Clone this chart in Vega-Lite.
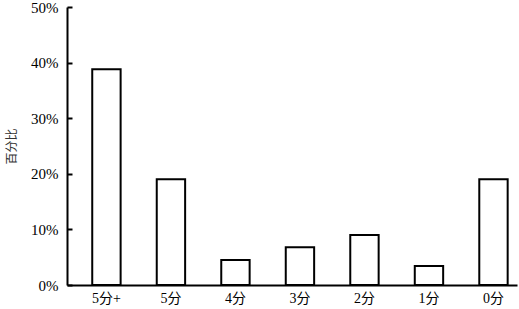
{
  "$schema": "https://vega.github.io/schema/vega-lite/v6.json",
  "width": 450,
  "height": 278,
  "autosize": "none",
  "padding": {"left": 67, "top": 7, "right": 2, "bottom": 24},
  "background": "white",
  "config": {"view": {"stroke": null}},
  "data": {"values": [
    {"cat": "5分+", "pct": 0.388},
    {"cat": "5分", "pct": 0.19},
    {"cat": "4分", "pct": 0.045},
    {"cat": "3分", "pct": 0.068},
    {"cat": "2分", "pct": 0.09},
    {"cat": "1分", "pct": 0.034},
    {"cat": "0分", "pct": 0.19}
  ]},
  "mark": {"type": "bar", "fill": "white", "stroke": "black", "strokeWidth": 2},
  "encoding": {
    "x": {
      "field": "cat", "type": "nominal", "sort": null,
      "scale": {"paddingInner": 0.56, "paddingOuter": 0.268, "align": 0.73},
      "axis": {
        "title": null, "labelAngle": 0, "ticks": false,
        "domainColor": "black", "domainWidth": 2,
        "labelFont": "Liberation Serif, Noto Sans CJK SC", "labelFontSize": 14,
        "labelColor": "black", "labelPadding": 6
      }
    },
    "y": {
      "field": "pct", "type": "quantitative",
      "scale": {"domain": [0, 0.5], "nice": false},
      "axis": {
        "title": "百分比", "format": ".0%", "values": [0, 0.1, 0.2, 0.3, 0.4, 0.5],
        "grid": false, "domainColor": "black", "domainWidth": 2,
        "tickColor": "black", "tickWidth": 2, "tickSize": -5,
        "labelFont": "Liberation Serif", "labelFontSize": 15, "labelColor": "black",
        "labelPadding": 14,
        "titleFont": "Noto Sans CJK SC", "titleFontSize": 12, "titleFontWeight": "normal",
        "titleColor": "#333", "titlePadding": 12
      }
    }
  }
}
